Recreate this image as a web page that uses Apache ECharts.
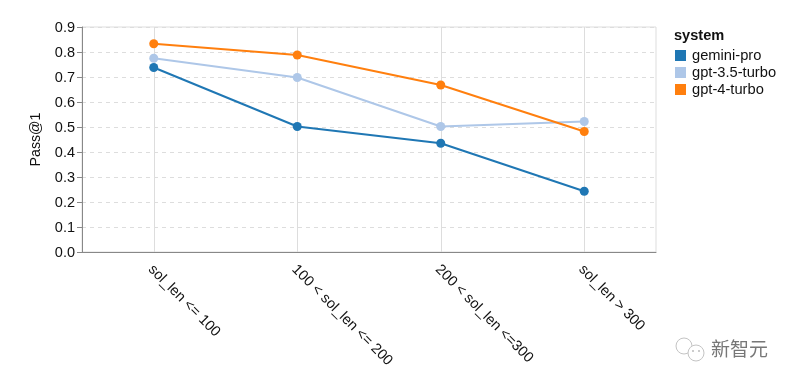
<!DOCTYPE html>
<html><head><meta charset="utf-8">
<style>html,body{margin:0;padding:0;background:#fff}#c{width:793px;height:384px}</style>
<script src="https://cdn.jsdelivr.net/npm/echarts@6/dist/echarts.min.js"></script>
</head><body><div id="c"></div>
<script>
const categories = ['sol_len <= 100', '100 < sol_len <= 200', '200 < sol_len <=300', 'sol_len > 300'];
const geminiPro = [0.738, 0.502, 0.435, 0.243];
const gpt35Turbo = [0.775, 0.698, 0.502, 0.522];
const gpt4Turbo = [0.833, 0.788, 0.668, 0.482];
const FONT = '"Liberation Sans", Arial, sans-serif';
const mk = (name, data, color) => ({
  name, data, type: 'line', symbol: 'circle', symbolSize: 9,
  showSymbol: true, animation: false,
  lineStyle: {color, width: 2}, itemStyle: {color}
});
const chart = echarts.init(document.getElementById('c'), null, {renderer: 'canvas'});
chart.setOption({
  animation: false,
  backgroundColor: '#fff',
  grid: {left: 82, top: 27, width: 574, height: 225, show: true, borderColor: '#dddddd', borderWidth: 1, backgroundColor: 'transparent'},
  legend: {
    left: 675, top: 48, padding: 0, orient: 'vertical', itemWidth: 11, itemHeight: 11, itemGap: 2, icon: 'rect',
    textStyle: {fontFamily: FONT, fontSize: 14.7, color: '#111', padding: [0,0,0,1]},
    data: ['gemini-pro', 'gpt-3.5-turbo', 'gpt-4-turbo']
  },
  xAxis: {
    type: 'category', data: categories, boundaryGap: true,
    axisLine: {lineStyle: {color: '#888', width: 1}},
    axisTick: {alignWithLabel: true, length: 5, lineStyle: {color: '#888'}},
    splitLine: {show: true, interval: 0, alignWithLabel: true, lineStyle: {color: '#ddd', width: 1}},
    axisLabel: {rotate: -45, interval: 0, margin: 12, fontFamily: FONT, fontSize: 14.5, color: '#111',
      formatter: v => '{a|' + v + '}',
      rich: {a: {fontFamily: FONT, fontSize: 14.5, color: '#111', padding: [9, 0, 0, 0]}}}
  },
  yAxis: {
    type: 'value', min: 0, max: 0.9, interval: 0.1,
    name: 'Pass@1', nameLocation: 'middle', nameGap: 39, nameRotate: 90,
    nameTextStyle: {fontFamily: FONT, fontSize: 14.2, color: '#111'},
    axisLine: {show: true, lineStyle: {color: '#888', width: 1}},
    axisTick: {show: true, length: 5, lineStyle: {color: '#888'}},
    splitLine: {show: true, lineStyle: {color: '#ddd', width: 1, type: [4, 4]}},
    axisLabel: {margin: 7, fontFamily: FONT, fontSize: 14.5, color: '#111',
      formatter: v => '{a|' + v.toFixed(1) + '}',
      rich: {a: {fontFamily: FONT, fontSize: 14.5, color: '#111', padding: [2, 0, 0, 0]}}}
  },
  series: [mk('gemini-pro', geminiPro, '#1f77b4'), mk('gpt-3.5-turbo', gpt35Turbo, '#aec7e8'), mk('gpt-4-turbo', gpt4Turbo, '#ff7f0e')],
  graphic: [
    {type: 'text', left: 674, top: 28, style: {text: 'system', fontFamily: FONT, fontSize: 14.6, fontWeight: 'bold', fill: '#111'}},
    {type: 'text', left: 711, top: 339, style: {text: '新智元', fontFamily: '"Noto Sans CJK SC"', fontSize: 19, fill: '#777'}},
    {type: 'circle', shape: {cx: 684, cy: 346, r: 8}, style: {fill: '#fff', stroke: '#c4c4c4', lineWidth: 1}},
    {type: 'circle', shape: {cx: 696, cy: 353, r: 8}, style: {fill: '#fff', stroke: '#c4c4c4', lineWidth: 1}},
    {type: 'circle', shape: {cx: 693, cy: 351, r: 1}, style: {fill: '#bbb'}},
    {type: 'circle', shape: {cx: 699, cy: 351, r: 1}, style: {fill: '#bbb'}}
  ]
});
</script></body></html>
